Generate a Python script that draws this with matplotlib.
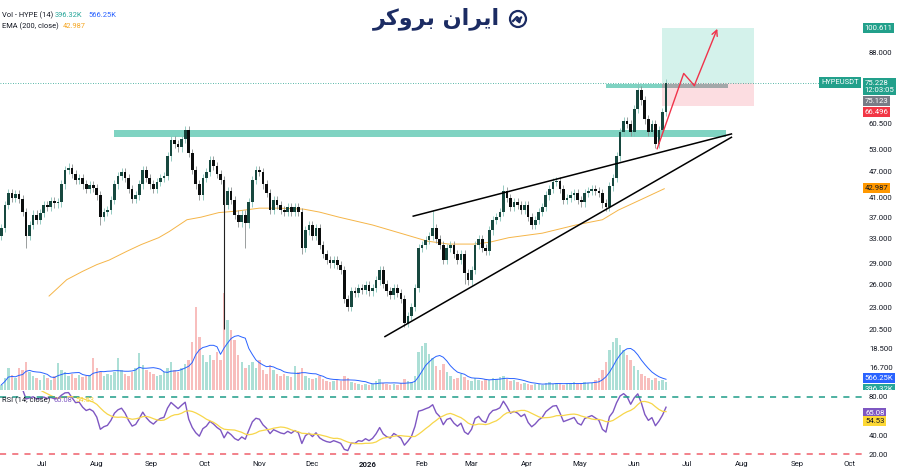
import numpy as np
import pandas as pd
import matplotlib
matplotlib.use("Agg")
import matplotlib.pyplot as plt
from matplotlib.ticker import NullLocator
from matplotlib.patches import Circle

plt.rcParams['font.family'] = ['Roboto', 'DejaVu Sans']

# ---------------- data (2-day candles) ----------------
start = "2025-06-08"
open0 = 33.5
closes = [
    35.0, 39.5, 42.0, 41.0, 41.8, 40.8, 38.0, 33.5,
    35.5, 37.5, 36.5, 37.8, 39.5, 39.0, 40.2, 39.8,
    40.0, 44.0, 47.5, 48.0, 46.5, 45.0, 45.5, 44.0,
    43.0, 43.8, 43.2, 41.5, 37.0, 38.0, 38.5, 40.5,
    44.0, 46.0, 47.0, 45.5, 43.0, 40.8, 41.5, 44.0,
    47.5, 45.5, 44.0, 43.0, 44.5, 45.5, 46.0, 51.0,
    55.5, 54.5, 53.5, 56.0, 58.5, 52.0, 47.5, 44.0,
    41.5, 45.5, 47.0, 50.0, 48.5, 46.5, 45.0, 39.5,
    42.5, 40.5, 37.5, 36.0, 37.5, 35.8, 40.0, 45.0,
    47.5, 47.0, 44.0, 42.0, 38.5, 40.5, 39.5, 38.5,
    38.0, 39.0, 38.0, 39.0, 38.0, 31.5, 34.5, 35.5,
    33.5, 35.0, 32.0, 30.5, 29.5, 29.0, 29.5, 28.8,
    28.0, 24.0, 23.0, 25.0, 24.8, 25.5, 25.2, 25.8,
    25.0, 25.5, 26.5, 28.0, 26.0, 25.0, 24.5, 25.5,
    24.8, 24.0, 21.2, 22.0, 23.0, 25.5, 31.5, 32.0,
    32.8, 33.5, 35.0, 33.0, 32.0, 29.5, 31.5, 32.0,
    30.5, 29.5, 30.5, 27.5, 26.5, 28.0, 32.0, 33.0,
    31.5, 31.0, 34.5, 36.5, 37.0, 38.0, 42.5, 41.0,
    39.0, 40.0, 39.5, 38.5, 39.5, 37.0, 35.5, 36.5,
    38.0, 39.0, 41.5, 43.0, 44.5, 44.8, 43.0, 40.5,
    41.0, 41.5, 42.0, 40.5, 40.0, 42.0, 42.5, 43.0,
    42.5, 42.0, 39.8, 39.0, 43.5, 45.5, 51.0, 58.0,
    61.5, 60.5, 58.0, 65.5, 72.5, 68.5, 62.0, 58.0,
    60.5, 54.5, 58.5, 64.5, 75.228,
]
# volume in millions
volumes = [
    0.24, 0.56, 1.03, 0.71, 0.56, 1.03, 0.94, 1.32,
    0.85, 0.66, 0.56, 0.47, 0.71, 0.56, 0.47, 0.66,
    1.27, 0.94, 0.85, 0.66, 0.75, 0.56, 0.71, 0.61,
    0.66, 0.71, 1.50, 1.03, 0.85, 0.66, 0.75, 0.71,
    0.85, 1.50, 0.94, 0.75, 0.66, 0.85, 1.03, 1.74,
    1.18, 0.94, 0.85, 0.75, 0.66, 0.71, 0.85, 1.03,
    1.32, 0.94, 0.85, 1.03, 1.22, 1.41, 2.26, 3.90,
    2.49, 1.65, 1.32, 1.65, 1.41, 1.79, 1.41, 4.56,
    3.29, 2.82, 2.35, 1.65, 1.32, 1.03, 1.18, 1.32,
    1.03, 1.41, 0.94, 0.75, 1.18, 0.94, 0.75, 0.66,
    0.75, 0.66, 0.61, 1.13, 0.85, 1.03, 0.66, 0.56,
    0.52, 0.56, 0.66, 0.52, 0.42, 0.38, 0.42, 0.47,
    0.42, 0.66, 0.56, 0.38, 0.33, 0.28, 0.24, 0.28,
    0.24, 0.28, 0.42, 0.52, 0.33, 0.28, 0.24, 0.28,
    0.24, 0.33, 0.52, 0.42, 0.38, 0.66, 1.79, 2.07,
    2.21, 1.69, 1.50, 1.13, 0.94, 1.22, 0.85, 0.66,
    0.52, 0.56, 0.75, 0.61, 0.47, 0.42, 0.56, 0.47,
    0.42, 0.52, 0.47, 0.56, 0.52, 0.61, 0.66, 0.52,
    0.42, 0.47, 0.38, 0.28, 0.33, 0.28, 0.24, 0.28,
    0.28, 0.24, 0.33, 0.38, 0.28, 0.33, 0.28, 0.24,
    0.28, 0.33, 0.38, 0.28, 0.33, 0.38, 0.33, 0.33,
    0.47, 0.56, 0.94, 1.32, 1.88, 2.26, 2.44, 2.12,
    1.88, 1.65, 1.41, 1.13, 0.94, 0.75, 0.66, 0.56,
    0.47, 0.56, 0.42, 0.47, 0.38,
]
# notable wicks
hi_idx = [19, 52, 122, 142, 180]
hi_vals = [49.3, 59.6, 38.5, 43.8, 75.5]
lo_idx = [7, 28, 63, 69, 85, 114, 131, 150, 171, 185]
lo_vals = [31.5, 35.5, 20.5, 31.5, 30.5, 20.9, 26.0, 35.0, 38.5, 53.5]

ema_dates = ["2025-07-05", "2025-07-15", "2025-07-24", "2025-08-01", "2025-08-08",
             "2025-08-18", "2025-08-26", "2025-09-05", "2025-09-11", "2025-09-21",
             "2025-09-29", "2025-10-09", "2025-10-19", "2025-11-01", "2025-11-12",
             "2025-11-26", "2025-12-05", "2025-12-16", "2026-01-04", "2026-01-23",
             "2026-02-04", "2026-02-16", "2026-03-02", "2026-03-11", "2026-03-22",
             "2026-04-10", "2026-04-29", "2026-05-14", "2026-05-23", "2026-06-06",
             "2026-06-18"]
ema_vals = [24.4, 26.6, 27.8, 28.8, 29.5, 30.9, 32.0, 33.2, 34.3, 36.5,
            37.0, 37.9, 38.2, 38.8, 38.8, 38.6, 38.0, 37.0, 35.5, 33.7,
            32.6, 32.1, 32.1, 32.4, 33.2, 34.0, 35.5, 36.5, 38.4, 40.8, 42.987]

res_zone_dates = ["2025-08-11", "2026-07-23"]
res_zone = (56.4, 58.5)
top_zone_dates = ["2026-05-16", "2026-06-17", "2026-07-24"]
top_zone = (73.2, 74.6)
pos_dates = ["2026-06-17", "2026-08-08"]
entry, target, stop = 75.228, 100.611, 66.496

tri_up_dates = ["2026-01-27", "2026-07-26"]
tri_up = [37.2, 57.4]
tri_lo_dates = ["2026-01-11", "2026-07-26"]
tri_lo = [19.7, 56.4]

proj_dates = ["2026-06-14", "2026-06-29", "2026-07-05", "2026-07-18"]
proj_vals = [53.1, 79.0, 74.1, 100.0]

price_ticks = [88, 60.5, 53, 47, 41, 37, 33, 29, 26, 23, 20.5, 18.5, 16.7]
rsi_ticks = [80, 40, 20]

# ---------------- derived series ----------------
dates = pd.date_range(start, periods=len(closes), freq="2D")
c = np.array(closes)
o = np.r_[open0, c[:-1]]
WICK = 0.022
hi = np.maximum(o, c) * (1 + WICK)
lo = np.minimum(o, c) * (1 - WICK)
hi[hi_idx] = np.maximum(hi[hi_idx], hi_vals)
lo[lo_idx] = np.minimum(lo[lo_idx], lo_vals)
up = c >= o

vol = pd.Series(volumes)
vol_ma = vol.rolling(7, min_periods=1).mean()

# RSI on the 2-day closes
s = pd.Series(closes)
d = s.diff()
gain = d.clip(lower=0).ewm(alpha=1 / 11, adjust=False).mean()
loss = (-d.clip(upper=0)).ewm(alpha=1 / 11, adjust=False).mean()
rsi = 100 - 100 / (1 + gain / loss)
rsi_ma = rsi.rolling(10, min_periods=1).mean()

# ---------------- layout ----------------
W, H = 900, 471
fig = plt.figure(figsize=(9, 4.71), dpi=100)
fig.patch.set_facecolor("white")

def fx(px):
    return px / W

def fy(py):
    return 1 - py / H

price_rect = [0, fy(390), fx(862), 390 / H]
ax_vol = fig.add_axes(price_rect)
ax = fig.add_axes(price_rect, sharex=ax_vol)
ax.set_facecolor("none")
ax_rsi = fig.add_axes([0, fy(458), fx(862), (458 - 391) / H], sharex=ax_vol)

x0 = pd.Timestamp("2025-06-07 06:00")
ax.set_xlim(x0, x0 + pd.Timedelta(days=487.6))

TEAL = "#22a08b"
RED = "#f23645"

# volume
vcol = np.where(up, "#acdfd6", "#f8bebd")
ax_vol.bar(dates, volumes, width=1.4, color=vcol)
ax_vol.plot(dates, vol_ma, color="#2962ff", lw=0.7)
ax_vol.set_ylim(0, 18.3)
ax_vol.axis("off")

# price pane
ax.set_yscale("log")
ax.set_ylim(14.86, 116.4)

pd0, pd1 = pd.to_datetime(pos_dates)
ax.fill_between([pd0, pd1], entry, target, color="#d4f2eb", lw=0, zorder=1)
ax.fill_between([pd0, pd1], stop, entry, color="#fcdde1", lw=0, zorder=1)

rz = pd.to_datetime(res_zone_dates)
ax.fill_between(rz, res_zone[0], res_zone[1], color="#7fd3c2", lw=0, zorder=2)
tz = pd.to_datetime(top_zone_dates)
ax.fill_between(tz[:2], top_zone[0], top_zone[1], color="#7fd3c2", lw=0, zorder=2)
ax.fill_between(tz[1:], top_zone[0], top_zone[1], color="#a3a8a9", lw=0, zorder=2)

ax.axhline(entry, xmin=0, xmax=820 / 862, color=TEAL, lw=0.6, ls=(0, (1, 2)), zorder=2)

ax.plot(pd.to_datetime(ema_dates), ema_vals, color="#f5b548", lw=0.7, zorder=3)

ax.vlines(dates[up], lo[up], hi[up], color="#86c3b8", lw=0.6, zorder=3)
ax.vlines(dates[~up], lo[~up], hi[~up], color="#8a8f8f", lw=0.6, zorder=3)
body = np.maximum(np.abs(c - o), c * 0.004)
ax.bar(dates[up], body[up], bottom=np.minimum(o, c)[up], width=1.5,
       color="#17483f", zorder=4)
ax.bar(dates[~up], body[~up], bottom=np.minimum(o, c)[~up], width=1.5,
       color="#0b0d0d", zorder=4)
# the long crash wick
ax.vlines(dates[63], lo_vals[2], o[63], color="#222222", lw=0.8, zorder=4)

ax.plot(pd.to_datetime(tri_up_dates), tri_up, color="black", lw=1.1, zorder=5)
ax.plot(pd.to_datetime(tri_lo_dates), tri_lo, color="black", lw=1.1, zorder=5)

pdt = pd.to_datetime(proj_dates)
ax.plot(pdt[:-1], proj_vals[:-1], color="#f0334a", lw=1.0, zorder=5)
ax.annotate("", xy=(pdt[-1], proj_vals[-1]), xytext=(pdt[-2], proj_vals[-2]),
            arrowprops=dict(arrowstyle="->", color="#f0334a", lw=1.0,
                            shrinkA=0, shrinkB=0, mutation_scale=10), zorder=5)

ax.yaxis.tick_right()
ax.set_yticks(price_ticks)
ax.set_yticklabels([f"{v:.3f}" for v in price_ticks])
ax.yaxis.set_minor_locator(NullLocator())
ax.tick_params(axis="y", which="both", length=0, pad=5, labelsize=5.6,
               labelcolor="#131722")
ax.tick_params(axis="x", bottom=False, labelbottom=False)
for a in (ax, ax_rsi):
    for sp in a.spines.values():
        sp.set_visible(False)

ax.text(821 / 862, entry, "HYPEUSDT", transform=ax.get_yaxis_transform(),
        fontsize=5.4, color="white", va="center", ha="left", zorder=6,
        bbox=dict(boxstyle="square,pad=0.25", fc=TEAL, ec="none"))

# RSI pane
ax_rsi.plot(dates, rsi, color="#7e57c2", lw=1.0)
ax_rsi.plot(dates, rsi_ma, color="#f7d64a", lw=0.9)
ax_rsi.axhline(80, color="#1e9c87", lw=1.1, ls=(0, (4, 4)))
ax_rsi.axhline(20, color="#ef5f6b", lw=1.1, ls=(0, (4, 4)))
ax_rsi.set_ylim(15.8, 86.3)
ax_rsi.yaxis.tick_right()
ax_rsi.set_yticks(rsi_ticks)
ax_rsi.set_yticklabels([f"{v:.2f}" for v in rsi_ticks])
ax_rsi.tick_params(axis="y", length=0, pad=5, labelsize=5.6, labelcolor="#131722")

month_ticks = pd.date_range("2025-07-01", "2026-10-01", freq="MS")
ax_rsi.set_xticks(month_ticks)
ax_rsi.set_xticklabels(["2026" if m.month == 1 else m.strftime("%b") for m in month_ticks])
ax_rsi.tick_params(axis="x", length=0, pad=2, labelsize=5.6, labelcolor="#131722")
for t in ax_rsi.get_xticklabels():
    if t.get_text() == "2026":
        t.set_fontweight("bold")

# right-hand price badges (clipped column)
ax_lbl = fig.add_axes([fx(862), fy(390), fx(38), 390 / H])
ax_lbl.set_xlim(0, 1)
ax_lbl.set_ylim(0, 1)
ax_lbl.axis("off")

def badge(a, ypx, txt, fc, tc="white", pane=390):
    a.text(0.06, 1 - ypx / pane, txt, fontsize=5.6, color=tc, va="center", ha="left",
           clip_on=True, linespacing=1.15,
           bbox=dict(boxstyle="square,pad=0.22", fc=fc, ec="none"))

badge(ax_lbl, 28, "100.611", TEAL)
badge(ax_lbl, 86.5, "75.228\n12:03:05", TEAL)
badge(ax_lbl, 101, "75.123", "#787b86")
badge(ax_lbl, 112, "66.496", RED)
badge(ax_lbl, 188, "42.987", "#ff9800", tc="#131722")
badge(ax_lbl, 378, "566.25K", "#2962ff")
badge(ax_lbl, 389, "396.32K", "#26a69a")

fig.text(fx(865), fy(413), "65.08", fontsize=5.6, color="white", va="center",
         bbox=dict(boxstyle="square,pad=0.22", fc="#7e57c2", ec="none"))
fig.text(fx(865), fy(421), "54.53", fontsize=5.6, color="#131722", va="center",
         bbox=dict(boxstyle="square,pad=0.22", fc="#fdd835", ec="none"))

# header legends
fs = 5.4
fig.text(fx(2), fy(15.5), "Vol - HYPE (14)", fontsize=fs, color="#131722", va="center")
fig.text(fx(55), fy(15.5), "396.32K", fontsize=fs, color="#26a69a", va="center")
fig.text(fx(88), fy(15.5), "566.25K", fontsize=fs, color="#2962ff", va="center")
fig.text(fx(2), fy(26.5), "EMA (200, close)", fontsize=fs, color="#131722", va="center")
fig.text(fx(63), fy(26.5), "42.987", fontsize=fs, color="#f5a623", va="center")
fig.text(fx(2), fy(400), "RSI (14, close)", fontsize=fs, color="#131722", va="center")
fig.text(fx(53), fy(400), "65.08", fontsize=fs, color="#7e57c2", va="center")
fig.text(fx(75), fy(400), "54.53", fontsize=fs, color="#f5d33f", va="center")

# logo
NAVY = "#1c2c63"
logo = "\uFEAE\uFB90\uFEED\uFEAE\uFE91 \uFEE5\uFE8D\uFEAE\uFBFE\uFE8D"
fig.text(fx(436), fy(19), logo, fontsize=16, fontweight="bold", color=NAVY,
         ha="center", va="center", family=["DejaVu Sans"])
ax_icon = fig.add_axes([fx(507), fy(30), fx(22), 22 / H])
ax_icon.set_xlim(0, 22)
ax_icon.set_ylim(0, 22)
ax_icon.set_aspect("equal")
ax_icon.axis("off")
ax_icon.add_patch(Circle((11, 11), 8, fill=False, ec=NAVY, lw=1.6))
ax_icon.plot([6, 10, 12.5], [9, 13, 10.5], color=NAVY, lw=1.6)
ax_icon.annotate("", xy=(16.5, 15.5), xytext=(12.5, 10.5),
                 arrowprops=dict(arrowstyle="-|>", color=NAVY, lw=1.6, mutation_scale=6))

fig.savefig("out.png", dpi=100, facecolor="white")
